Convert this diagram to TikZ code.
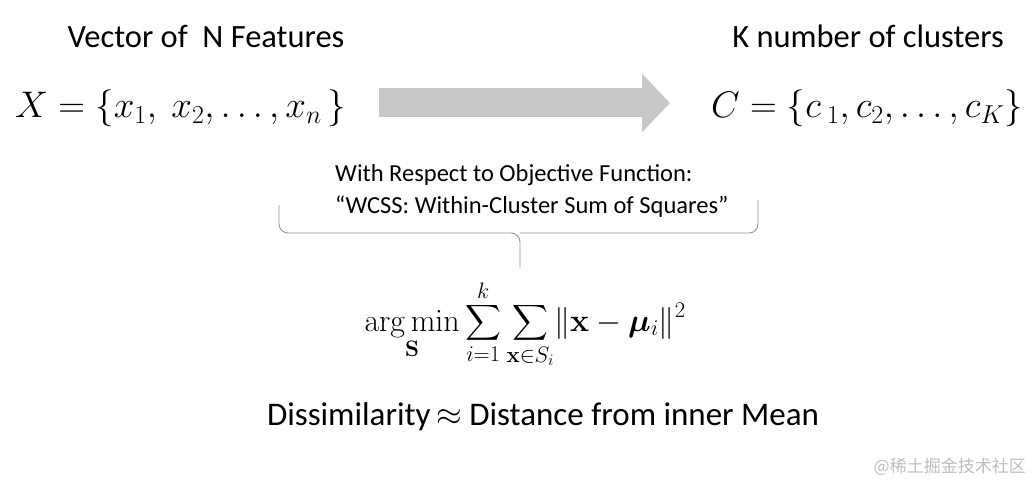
\RequirePackage{fix-cm}
\documentclass[tikz,border=0pt]{standalone}
\usepackage{amsmath}
\usepackage{bm}
\usepackage[no-math]{fontspec}
\setmainfont{Carlito}
\newfontfamily\cjkfont{Noto Sans CJK SC}
\usetikzlibrary{arrows.meta,positioning,calc}
\definecolor{arrowgray}{RGB}{200,200,200}
\definecolor{bracegray}{RGB}{150,150,150}
\definecolor{marktext}{RGB}{190,190,190}

\begin{document}
\begin{tikzpicture}[
  x=1pt, y=-1pt,
  lbl/.style={inner sep=0pt, anchor=base, font=\fontsize{32.5}{38}\selectfont},
  setx/.style={inner sep=0pt, anchor=base west, font=\fontsize{37}{44}\selectfont},
  obj/.style={inner sep=0pt, anchor=base west, align=left, font=\fontsize{24.5}{32}\selectfont},
  frm/.style={inner sep=0pt, anchor=base, font=\fontsize{32}{38}\selectfont},
  note/.style={inner sep=0pt, anchor=base, font=\fontsize{33}{40}\selectfont},
  brc/.style={draw=bracegray, line width=0.9pt, rounded corners=9pt},
  blk/.style={draw=arrowgray, line width=29pt, -{Triangle[length=28pt,width=57pt]}}
]
\useasboundingbox (0,0) rectangle (1030,481);
% ---------------- top row: input and output sets
\node[lbl] (feat) at (206,48) {Vector of\ \ N Features};
\node[lbl] (kclu) at (868,48) {K number of clusters};
\node[setx] (xset) at (15,118) {$X=\{x_1,\ x_2,\ldots,x_n\,\}$};
\node[setx] (cset) at (711,118) {$C=\{c\,{}_1,c_2,\ldots,c_K\}$};
% ---------------- block arrow
\coordinate (a0) at (379,103);
\coordinate (a1) at (670,103);
\draw[blk] (a0) -- (a1);
% ---------------- objective and brace
\node[obj] (wcss) at (335,213) {With Respect to Objective Function:\\``WCSS: Within-Cluster Sum of Squares''};
\coordinate (bl) at (279,205);
\coordinate (br) at (758,200);
\coordinate (bm) at (520,233);
\coordinate (bt) at (520,268);
\draw[brc] (bl) |- (bm) -- (bt);
\draw[brc] (br) |- (bm);
% ---------------- formula
\node[frm] (argmin) at (525,331) {$\displaystyle\operatorname*{arg\,min}_{\mathbf{S}}\sum_{i=1}^{k}\sum_{\mathbf{x}\in S_i}\lVert\mathbf{x}-\bm{\mu}_i\rVert^2$};
\node[note] (diss) at (543,425) {Dissimilarity\,$\approx$ Distance from inner Mean};
% ---------------- watermark
\node[inner sep=0pt, anchor=base east, text=marktext, font=\cjkfont\fontsize{17}{20}\selectfont] (mark) at (1026,472) {@稀土掘金技术社区};
\end{tikzpicture}
\end{document}
